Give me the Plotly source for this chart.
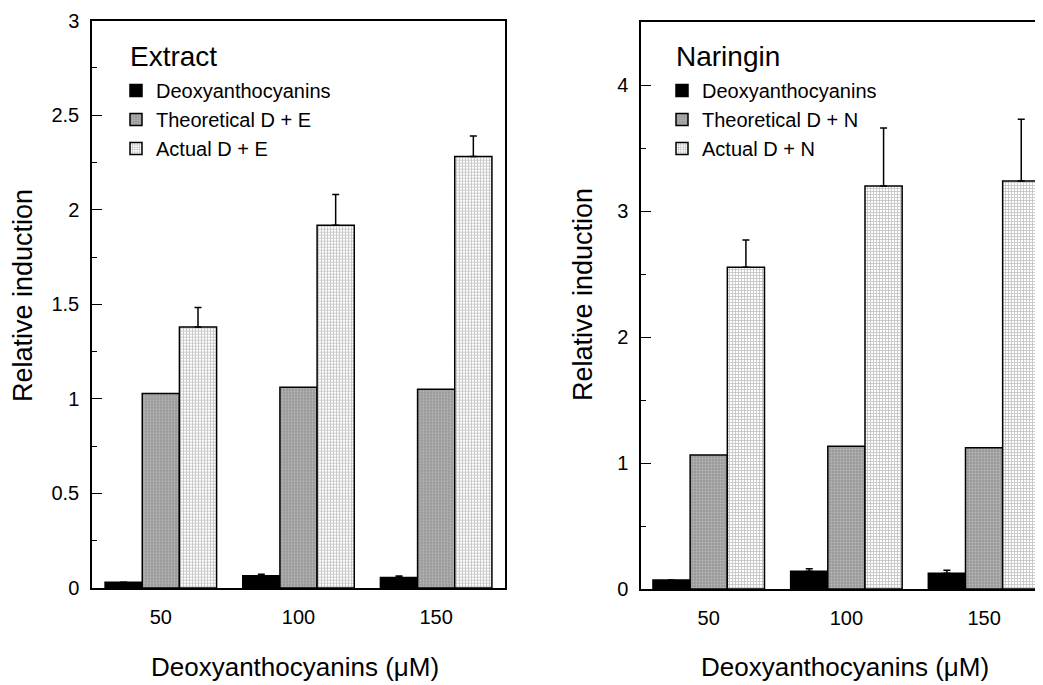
import plotly.graph_objects as go

# ---------------- data ----------------
conc = [50, 100, 150]
conc_labels = ["50", "100", "150"]

extract_deoxy = [0.03, 0.065, 0.055]
extract_deoxy_err = [0.0, 0.008, 0.008]
extract_theor = [1.028, 1.062, 1.051]
extract_actual = [1.38, 1.918, 2.282]
extract_actual_err = [0.103, 0.163, 0.108]

naringin_deoxy = [0.071, 0.14, 0.125]
naringin_deoxy_err = [0.0, 0.021, 0.023]
naringin_theor = [1.063, 1.132, 1.121]
naringin_actual = [2.553, 3.198, 3.238]
naringin_actual_err = [0.217, 0.461, 0.49]

left_yticks = [0, 0.5, 1, 1.5, 2, 2.5, 3]
left_yticklabels = ["0", "0.5", "1", "1.5", "2", "2.5", "3"]
right_yticks = [0, 1, 2, 3, 4]
right_yticklabels = ["0", "1", "2", "3", "4"]

names_left = ["Deoxyanthocyanins", "Theoretical D + E", "Actual D + E"]
names_right = ["Deoxyanthocyanins", "Theoretical D + N", "Actual D + N"]

# ---------------- styles ----------------
FONT = "Liberation Sans, Arial, Helvetica, sans-serif"
W, H = 1043, 685
OFF = 8  # page body margin offset
LINE = dict(color="black", width=1.5)

theor_marker = dict(
    color="#a0a0a0",
    line=LINE,
    pattern=dict(shape=".", bgcolor="#999999", fgcolor="#d8d8d8", size=3, solidity=0.35, fillmode="overlay"),
)
actual_marker = dict(
    color="#cfcfcf",
    line=LINE,
    pattern=dict(shape="+", bgcolor="#ffffff", fgcolor="#8c8c8c", size=3, solidity=0.5, fillmode="overlay"),
)
deoxy_marker = dict(color="black", line=LINE)


def err(vals):
    return dict(type="data", symmetric=False, array=vals, arrayminus=[0] * len(vals),
                color="black", thickness=1.5, width=3.5)


fig = go.Figure()

# left panel
fig.add_trace(go.Bar(x=conc, y=extract_deoxy, name=names_left[0], marker=deoxy_marker,
                     error_y=err(extract_deoxy_err), xaxis="x", yaxis="y", legend="legend"))
fig.add_trace(go.Bar(x=conc, y=extract_theor, name=names_left[1], marker=theor_marker,
                     xaxis="x", yaxis="y", legend="legend"))
fig.add_trace(go.Bar(x=conc, y=extract_actual, name=names_left[2], marker=actual_marker,
                     error_y=err(extract_actual_err), xaxis="x", yaxis="y", legend="legend"))

# right panel
fig.add_trace(go.Bar(x=conc, y=naringin_deoxy, name=names_right[0], marker=deoxy_marker,
                     error_y=err(naringin_deoxy_err), xaxis="x2", yaxis="y2", legend="legend2"))
fig.add_trace(go.Bar(x=conc, y=naringin_theor, name=names_right[1], marker=theor_marker,
                     xaxis="x2", yaxis="y2", legend="legend2"))
fig.add_trace(go.Bar(x=conc, y=naringin_actual, name=names_right[2], marker=actual_marker,
                     error_y=err(naringin_actual_err), xaxis="x2", yaxis="y2", legend="legend2"))


def px_x(p):
    return (p - OFF) / W


def px_y(p):
    return 1 - (p - OFF) / H


xcommon = dict(showline=True, linecolor="black", linewidth=1.5, mirror=True, ticks="",
               tickvals=conc, ticktext=conc_labels, showgrid=False, zeroline=False,
               tickfont=dict(family=FONT, size=20, color="black"), ticklabelstandoff=10)
ycommon = dict(showline=True, linecolor="black", linewidth=1.5, ticks="inside", ticklen=10,
               tickwidth=1.3, tickcolor="black", showgrid=False, zeroline=False,
               tickfont=dict(family=FONT, size=20, color="black"), ticklabelstandoff=7)

fig.update_layout(
    width=W, height=H,
    margin=dict(l=0, r=0, t=0, b=0, autoexpand=False),
    paper_bgcolor="white", plot_bgcolor="white",
    barmode="group", bargap=0.19, bargroupgap=0,
    font=dict(family=FONT, color="black"),
    xaxis=dict(domain=[px_x(92), px_x(505)], range=[25, 175], anchor="y", **xcommon),
    yaxis=dict(domain=[px_y(588), px_y(20.7)], range=[0, 3], anchor="x", mirror=True,
               tickvals=left_yticks, ticktext=left_yticklabels,
               minor=dict(dtick=0.25, ticks="inside", ticklen=5, tickcolor="black", tickwidth=1.3),
               **ycommon),
    xaxis2=dict(domain=[px_x(641), px_x(1043)], range=[25.4, 171.4], anchor="y2", **xcommon),
    yaxis2=dict(domain=[px_y(589), px_y(22)], range=[0, 4.5], anchor="x2", mirror=False,
                tickvals=right_yticks, ticktext=right_yticklabels,
                minor=dict(dtick=0.5, ticks="inside", ticklen=5, tickcolor="black", tickwidth=1.3),
                **ycommon),
    legend=dict(x=px_x(116), y=px_y(71), xanchor="left", yanchor="top",
                font=dict(family=FONT, size=20, color="black"), bgcolor="rgba(0,0,0,0)",
                traceorder="normal", itemclick=False),
    legend2=dict(x=px_x(662), y=px_y(71), xanchor="left", yanchor="top",
                 font=dict(family=FONT, size=20, color="black"), bgcolor="rgba(0,0,0,0)",
                 traceorder="normal", itemclick=False),
    showlegend=True,
)

ann_font = dict(family=FONT, size=27, color="black")
fig.add_annotation(text="Relative induction", x=px_x(23), y=px_y(296), xref="paper", yref="paper",
                   textangle=-90, showarrow=False, font=ann_font, xanchor="center", yanchor="middle")
fig.add_annotation(text="Relative induction", x=px_x(583), y=px_y(295), xref="paper", yref="paper",
                   textangle=-90, showarrow=False, font=ann_font, xanchor="center", yanchor="middle")
fig.add_annotation(text="Deoxyanthocyanins (μM)", x=px_x(295), y=px_y(667), xref="paper", yref="paper",
                   showarrow=False, font=dict(family=FONT, size=26, color="black"),
                   xanchor="center", yanchor="middle")
fig.add_annotation(text="Deoxyanthocyanins (μM)", x=px_x(845), y=px_y(667), xref="paper", yref="paper",
                   showarrow=False, font=dict(family=FONT, size=26, color="black"),
                   xanchor="center", yanchor="middle")
fig.add_annotation(text="Extract", x=px_x(128), y=px_y(56), xref="paper", yref="paper",
                   showarrow=False, font=dict(family=FONT, size=28, color="black"),
                   xanchor="left", yanchor="middle")
fig.add_annotation(text="Naringin", x=px_x(674), y=px_y(56), xref="paper", yref="paper",
                   showarrow=False, font=dict(family=FONT, size=28, color="black"),
                   xanchor="left", yanchor="middle")

fig.write_html("out.html")
